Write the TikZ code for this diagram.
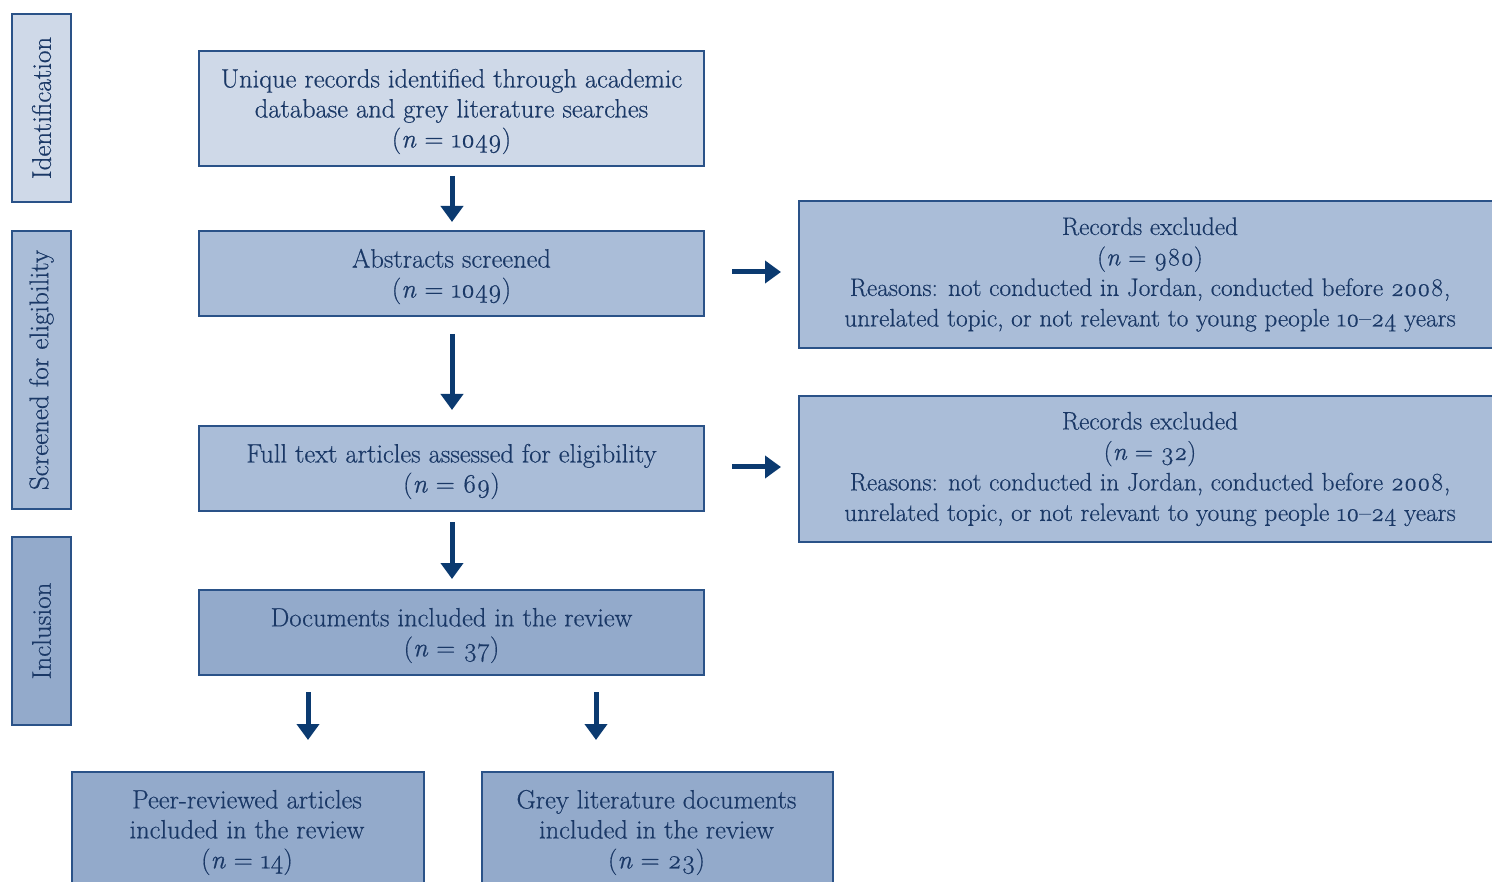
\documentclass[tikz,border=0pt]{standalone}
\usepackage{fontspec}
\setmainfont{Latin Modern Roman}[Numbers=OldStyle, FakeBold=0.5]
\usetikzlibrary{arrows.meta}
\definecolor{bord}{HTML}{2A5288}
\definecolor{txt}{HTML}{1A3866}
\definecolor{arr}{HTML}{0B3A70}
\definecolor{fillA}{HTML}{CFD9E8}
\definecolor{fillB}{HTML}{AABDD8}
\definecolor{fillC}{HTML}{93AACB}
\tikzset{
  box/.style={draw=bord, line width=2pt, rectangle, align=center, text=txt,
    font=\fontsize{26.5}{30}\selectfont, inner sep=0pt},
  side/.style={box, rotate=90, font=\fontsize{27}{30}\selectfont},
  flow/.style={draw=arr, line width=5pt, -{Triangle[width=22pt,length=16pt]}},
  lbl/.style={text=txt, align=center, font=\fontsize{26.5}{30}\selectfont, yshift=-3pt},
  exlbl/.style={lbl, font=\fontsize{25.3}{30.5}\selectfont},
}
\newcommand{\nn}[1]{(\textit{n} = #1)}
\begin{document}
\begin{tikzpicture}[x=1pt,y=-1pt]
\useasboundingbox (0,0) rectangle (1492,882);
% side labels
\node[side, fill=fillA, minimum width=188pt, minimum height=59pt] (s1) at (41.5,108) {Identification};
\node[side, fill=fillB, minimum width=278pt, minimum height=59pt] (s2) at (41.5,370) {Screened for eligibility};
\node[side, fill=fillC, minimum width=188pt, minimum height=59pt] (s3) at (41.5,631) {Inclusion};
% main boxes
\node[box, fill=fillA, minimum width=505pt, minimum height=115pt] (b1) at (451.5,108.5) {};
\node[lbl] (l1) at (b1) {Unique records identified through academic\\database and grey literature searches\\\nn{1049}};
\node[box, fill=fillB, minimum width=505pt, minimum height=85pt] (b2) at (451.5,273.5) {};
\node[lbl] (l2) at (b2) {Abstracts screened\\\nn{1049}};
\node[box, fill=fillB, minimum width=505pt, minimum height=85pt] (b3) at (451.5,468.5) {};
\node[lbl] (l3) at (b3) {Full text articles assessed for eligibility\\\nn{69}};
\node[box, fill=fillC, minimum width=505pt, minimum height=85pt] (b4) at (451.5,632.5) {};
\node[lbl] (l4) at (b4) {Documents included in the review\\\nn{37}};
% excluded
\node[box, fill=fillB, minimum width=706pt, minimum height=147pt, anchor=north west] (e1) at (798,200) {};
\node[exlbl] (t1) at (1150,271.5)
  {Records excluded\\\nn{980}\\Reasons: not conducted in Jordan, conducted before 2008,\\unrelated topic, or not relevant to young people 10--24 years};
\node[box, fill=fillB, minimum width=706pt, minimum height=146pt, anchor=north west] (e2) at (798,395) {};
\node[exlbl] (t2) at (1150,466)
  {Records excluded\\\nn{32}\\Reasons: not conducted in Jordan, conducted before 2008,\\unrelated topic, or not relevant to young people 10--24 years};
% bottom boxes
\node[box, fill=fillC, minimum width=352pt, minimum height=125pt, anchor=north west] (p1) at (71,771) {};
\node[lbl] (t3) at (247,829.5)
  {Peer-reviewed articles\\included in the review\\\nn{14}};
\node[box, fill=fillC, minimum width=351pt, minimum height=125pt, anchor=north west] (p2) at (481,771) {};
\node[lbl] (t4) at (656.5,829.5)
  {Grey literature documents\\included in the review\\\nn{23}};
% arrows
\coordinate (a1s) at (452,176); \coordinate (a1e) at (452,222);
\coordinate (a2s) at (452,334); \coordinate (a2e) at (452,410);
\coordinate (a3s) at (452,522); \coordinate (a3e) at (452,579);
\coordinate (a4s) at (308,692); \coordinate (a4e) at (308,740);
\coordinate (a5s) at (596,692); \coordinate (a5e) at (596,740);
\coordinate (r1s) at (732,272); \coordinate (r1e) at (781,272);
\coordinate (r2s) at (732,467); \coordinate (r2e) at (781,467);
\draw[flow] (a1s) -- (a1e);
\draw[flow] (a2s) -- (a2e);
\draw[flow] (a3s) -- (a3e);
\draw[flow] (a4s) -- (a4e);
\draw[flow] (a5s) -- (a5e);
\draw[flow] (r1s) -- (r1e);
\draw[flow] (r2s) -- (r2e);
\end{tikzpicture}
\end{document}
